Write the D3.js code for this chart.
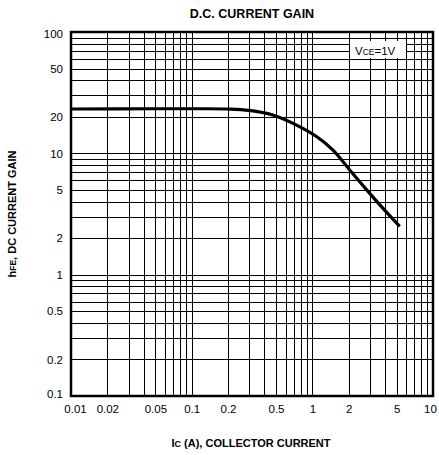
<!DOCTYPE html>
<html>
<head>
<meta charset="utf-8">
<script src="https://cdn.jsdelivr.net/npm/d3@7"></script>
<style>
  html, body { margin: 0; padding: 0; background: #fff; }
  svg { display: block; font-family: "Liberation Sans", Arial, Helvetica, sans-serif; }
</style>
</head>
<body>
<svg id="chart" width="439" height="455"></svg>
<script>
// ── data (Ic in A, hFE)
const icValues  = [0.01, 0.05, 0.1, 0.2, 0.3, 0.47, 0.74, 1.09, 1.49, 2.04, 2.82, 3.87, 5.3];
const hfeValues = [23.2, 23.3, 23.3, 23.2, 22.6, 20.7, 17.1, 13.7, 10.6, 7.3, 5.0, 3.5, 2.5];

const xTickLabels = [0.01, 0.02, 0.05, 0.1, 0.2, 0.5, 1, 2, 5, 10];
const yTickLabels = [0.1, 0.2, 0.5, 1, 2, 5, 10, 20, 50, 100];

const svg = d3.select('#chart');
const plot = { left: 71, right: 433, top: 32, bottom: 396 };

const x = d3.scaleLog().domain([0.01, 10]).range([plot.left, plot.right]);
const y = d3.scaleLog().domain([0.1, 100]).range([plot.bottom, plot.top]);

// grid: every 1..9 step in each decade
const gridX = x.ticks().filter(v => v > 0.01 && v < 10);
const gridY = y.ticks().filter(v => v > 0.1 && v < 100);

const grid = svg.append('g').attr('stroke', '#000').attr('shape-rendering', 'crispEdges');
grid.selectAll('line.gx').data(gridX).enter().append('line')
  .attr('x1', d => Math.round(x(d)) + 0.5).attr('x2', d => Math.round(x(d)) + 0.5)
  .attr('y1', plot.top).attr('y2', plot.bottom)
  .attr('stroke-width', 1.2);
grid.selectAll('line.gy').data(gridY).enter().append('line')
  .attr('y1', d => Math.round(y(d)) + 0.5).attr('y2', d => Math.round(y(d)) + 0.5)
  .attr('x1', plot.left).attr('x2', plot.right)
  .attr('stroke-width', 1.2);

// frame
svg.append('rect')
  .attr('x', plot.left).attr('y', plot.top)
  .attr('width', plot.right - plot.left).attr('height', plot.bottom - plot.top)
  .attr('fill', 'none').attr('stroke', '#000').attr('stroke-width', 2.5);

// curve — catmull-rom in (log) pixel space keeps the knee smooth
const line = d3.line()
  .x((d, i) => x(icValues[i]))
  .y(d => y(d))
  .curve(d3.curveCatmullRom.alpha(0.5));
svg.append('path')
  .attr('d', line(hfeValues))
  .attr('fill', 'none').attr('stroke', '#000')
  .attr('stroke-width', 3.2).attr('stroke-linecap', 'butt');

// axis tick labels (axes used for placement, domain/ticks hidden)
const fmt = d => String(d);
const xAxis = svg.append('g')
  .attr('transform', `translate(0,${plot.bottom})`)
  .call(d3.axisBottom(x).tickValues(xTickLabels).tickFormat(fmt).tickSize(0).tickPadding(9));
const yAxis = svg.append('g')
  .attr('transform', `translate(${plot.left},0)`)
  .call(d3.axisLeft(y).tickValues(yTickLabels).tickFormat(fmt).tickSize(0).tickPadding(8));
[xAxis, yAxis].forEach(a => {
  a.select('.domain').remove();
  a.selectAll('text').attr('font-size', 11.5).attr('fill', '#000')
    .attr('font-family', '"Liberation Sans", Arial, sans-serif');
});
// nudge the corner labels like the sheet
xAxis.selectAll('text').filter(d => d === 0.01).attr('dx', 4);
xAxis.selectAll('text').filter(d => d === 10).attr('dx', -3);
yAxis.selectAll('text').filter(d => d === 0.1).attr('dy', '0.15em');
yAxis.selectAll('text').filter(d => d === 100).attr('dy', '0.45em');

// title
svg.append('text')
  .attr('x', 252).attr('y', 18)
  .attr('text-anchor', 'middle')
  .attr('font-size', 12.5).attr('font-weight', 'bold')
  .text('D.C. CURRENT GAIN');

// x axis title with subscript
const xt = svg.append('text')
  .attr('x', 251).attr('y', 447)
  .attr('text-anchor', 'middle')
  .attr('font-size', 11).attr('font-weight', 'bold');
xt.append('tspan').text('I');
xt.append('tspan').attr('font-size', 9).text('C');
xt.append('tspan').text(' (A), COLLECTOR CURRENT');

// y axis title with subscript
const yt = svg.append('text')
  .attr('transform', 'translate(16,214) rotate(-90)')
  .attr('text-anchor', 'middle')
  .attr('font-size', 11).attr('font-weight', 'bold');
yt.append('tspan').text('h');
yt.append('tspan').attr('font-size', 8.5).text('FE');
yt.append('tspan').text(', DC CURRENT GAIN');

// condition label on a white patch
svg.append('rect')
  .attr('x', 350).attr('y', 41).attr('width', 56).attr('height', 17)
  .attr('fill', '#fff');
const vt = svg.append('text')
  .attr('x', 355).attr('y', 55)
  .attr('font-size', 11.5);
vt.append('tspan').text('V');
vt.append('tspan').attr('font-size', 8.5).text('CE');
vt.append('tspan').text('=1V');
</script>
</body>
</html>
